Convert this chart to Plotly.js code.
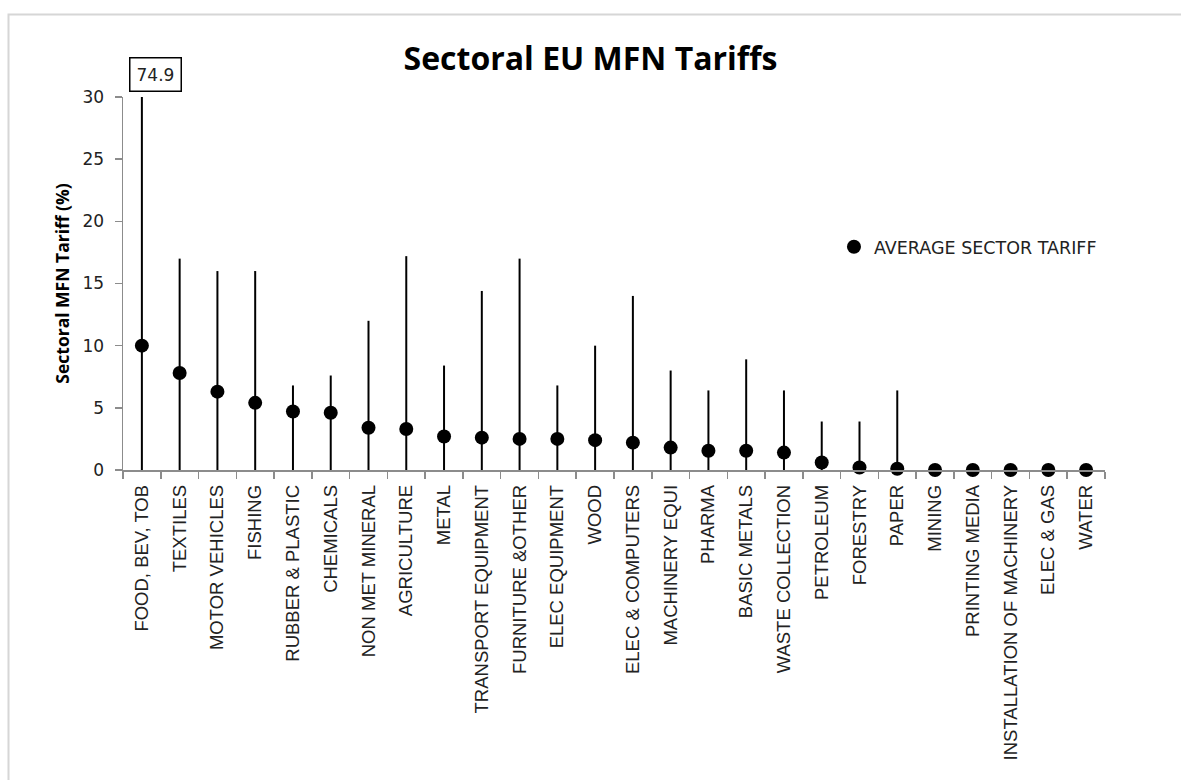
<!DOCTYPE html>
<html>
<head>
<meta charset="utf-8">
<script src="https://cdn.plot.ly/plotly-3.0.1.min.js"></script>
<style>
  html, body { margin: 0; padding: 0; background: #ffffff; }
  #chart { width: 1181px; height: 780px; }
</style>
</head>
<body>
<div id="chart"></div>
<script>
// ---- data ----
const sectors = [
  "FOOD, BEV, TOB", "TEXTILES", "MOTOR VEHICLES", "FISHING", "RUBBER & PLASTIC",
  "CHEMICALS", "NON MET MINERAL", "AGRICULTURE", "METAL", "TRANSPORT EQUIPMENT",
  "FURNITURE &OTHER", "ELEC EQUIPMENT", "WOOD", "ELEC & COMPUTERS", "MACHINERY EQUI",
  "PHARMA", "BASIC METALS", "WASTE COLLECTION", "PETROLEUM", "FORESTRY",
  "PAPER", "MINING", "PRINTING MEDIA", "INSTALLATION OF MACHINERY", "ELEC & GAS", "WATER"
];
const avgTariff = [
  10.0, 7.8, 6.3, 5.4, 4.7,
  4.6, 3.4, 3.3, 2.7, 2.6,
  2.5, 2.5, 2.4, 2.2, 1.8,
  1.55, 1.55, 1.4, 0.6, 0.2,
  0.1, 0, 0, 0, 0, 0
];
const maxTariff = [
  74.9, 17.0, 16.0, 16.0, 6.8,
  7.6, 12.0, 17.2, 8.4, 14.4,
  17.0, 6.8, 10.0, 14.0, 8.0,
  6.4, 8.9, 6.4, 3.9, 3.9,
  6.4, 0, 0, 0, 0, 0
];
const yTicks = [0, 5, 10, 15, 20, 25, 30];
const titleText = "Sectoral EU MFN Tariffs";
const yTitleText = "Sectoral MFN Tariff (%)";
const legendName = "AVERAGE SECTOR TARIFF";

// stems from 0 to sector maximum
const stemX = [], stemY = [];
sectors.forEach((s, i) => {
  stemX.push(s, s, null);
  stemY.push(0, maxTariff[i], null);
});

const grey = "#8c8c8c";

const traces = [
  {
    type: "scatter", mode: "lines",
    x: stemX, y: stemY,
    line: { color: "#000000", width: 2 },
    showlegend: false, hoverinfo: "skip",
    cliponaxis: true
  },
  {
    type: "scatter", mode: "markers",
    name: legendName,
    x: sectors, y: avgTariff,
    marker: { color: "#000000", size: 14, symbol: "circle" },
    cliponaxis: false
  }
];

const layout = {
  width: 1181, height: 780,
  margin: { l: 123, r: 76, t: 97, b: 310 },
  paper_bgcolor: "#ffffff", plot_bgcolor: "#ffffff",
  font: { family: "DejaVu Sans, sans-serif", color: "#222222" },
  title: {
    text: "<b>" + titleText + "</b>",
    font: { family: "Open Sans, sans-serif", size: 32, color: "#000000" },
    x: 0.5, xref: "container", xanchor: "center",
    y: 0.925, yref: "container", yanchor: "middle"
  },
  showlegend: true,
  legend: {
    x: 0.724, y: 0.598, xanchor: "left", yanchor: "middle",
    font: { family: "DejaVu Sans, sans-serif", size: 17.5, color: "#222222" },
    bgcolor: "rgba(0,0,0,0)", borderwidth: 0
  },
  xaxis: {
    type: "category",
    categoryorder: "array", categoryarray: sectors,
    range: [-0.5, sectors.length - 0.5],
    showline: true, linecolor: grey, linewidth: 1.5,
    ticks: "outside", tickson: "boundaries", ticklen: 7, tickcolor: grey, tickwidth: 1.5,
    tickangle: -90,
    tickfont: { family: "Liberation Sans, Arial, sans-serif", size: 18.5, color: "#222222" },
    ticklabelstandoff: 6,
    showgrid: false, zeroline: false, fixedrange: true, automargin: false
  },
  yaxis: {
    range: [0, 30],
    tickvals: yTicks, ticktext: yTicks.map(String),
    showline: true, linecolor: grey, linewidth: 1.5,
    ticks: "outside", ticklen: 7, tickcolor: grey, tickwidth: 1.5,
    tickfont: { family: "DejaVu Sans, sans-serif", size: 17, color: "#222222" },
    ticklabelstandoff: 7,
    showgrid: false, zeroline: false, fixedrange: true, automargin: false,
    title: {
      text: "<b>" + yTitleText + "</b>",
      font: { family: "Open Sans, sans-serif", size: 17.5, color: "#000000" },
      standoff: 8
    }
  },
  annotations: [
    {
      x: sectors[0], y: 30, xref: "x", yref: "y",
      text: String(maxTariff[0]),
      showarrow: false,
      xanchor: "center", yanchor: "bottom",
      xshift: 14, yshift: 5,
      font: { family: "DejaVu Sans, sans-serif", size: 17, color: "#222222" },
      bordercolor: "#000000", borderwidth: 1.5, borderpad: 6,
      bgcolor: "#ffffff"
    }
  ],
  shapes: [
    {
      type: "rect", xref: "paper", yref: "paper",
      x0: (8.5 - 123) / 982, x1: (1195 - 123) / 982,
      y0: (470 - 795) / 373, y1: (470 - 14.5) / 373,
      line: { color: "#d6d6d6", width: 2 },
      fillcolor: "rgba(0,0,0,0)", layer: "below"
    }
  ]
};

Plotly.newPlot("chart", traces, layout, { staticPlot: true, displayModeBar: false });
</script>
</body>
</html>
